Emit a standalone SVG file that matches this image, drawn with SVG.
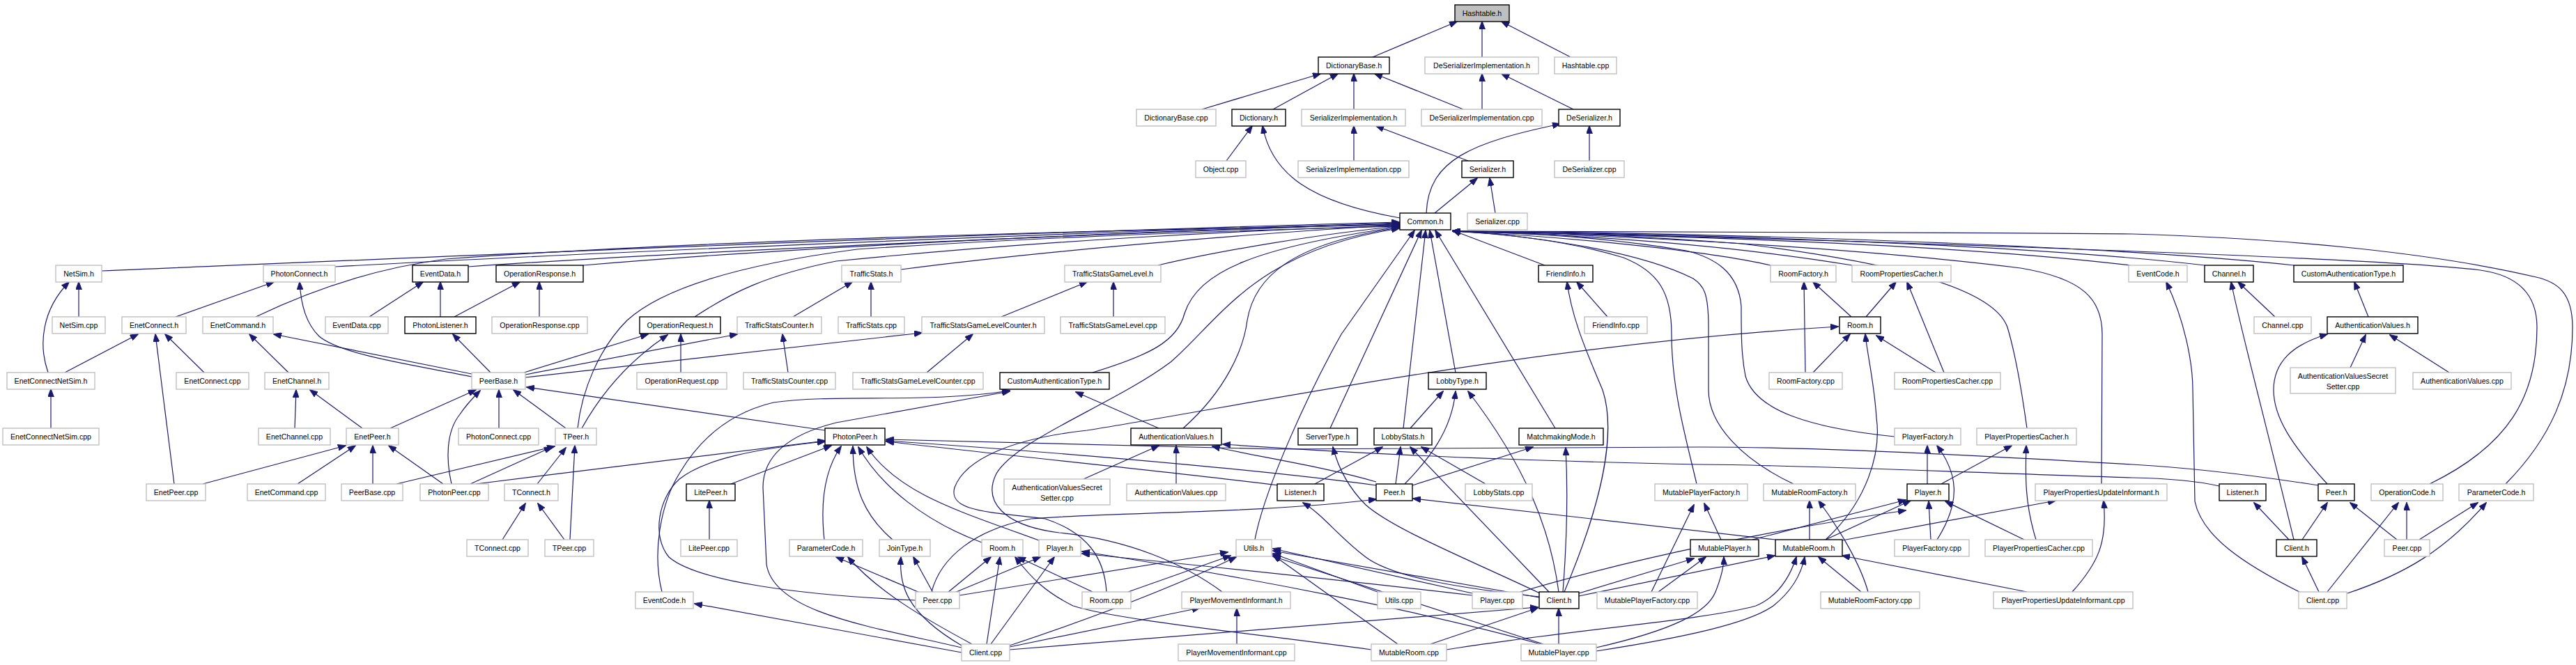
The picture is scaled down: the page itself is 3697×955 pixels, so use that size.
<svg xmlns="http://www.w3.org/2000/svg" width="3697" height="955" viewBox="0 0 3697 955">
<style>
.n rect{fill:#fff;stroke:#c0c0c0;stroke-width:1.4}
.b rect{stroke:#000;stroke-width:1.4}
text{font-family:"Liberation Sans",Arial,sans-serif;font-size:10.6px;fill:#000;text-anchor:middle}
.e path{fill:none;stroke:#191970;stroke-width:1.2;marker-end:url(#ah)}
</style>
<defs>
<marker id="ah" markerWidth="12" markerHeight="9" refX="11" refY="4.5" orient="auto" markerUnits="userSpaceOnUse"><path d="M0,0 L12,4.5 L0,9 z" fill="#191970" stroke="#191970" stroke-width="0.8"/></marker>
</defs>
<rect x="0" y="0" width="3697" height="955" fill="#fff"/>
<g id="connectors" class="e">
<path d="M1970,82 L2091,31"/>
<path d="M2127,82 L2127,31"/>
<path d="M2254,82 L2155,31"/>
<path d="M1725,157 L1895,106"/>
<path d="M1827,157 L1920,106"/>
<path d="M1943,157 L1943,106"/>
<path d="M2100,157 L1973,106"/>
<path d="M2127,157 L2127,106"/>
<path d="M2258,157 L2155,106"/>
<path d="M1943,231 L1943,181"/>
<path d="M2107,231 L1975,181"/>
<path d="M2281,231 L2281,181"/>
<path d="M1760,231 L1797,181"/>
<path d="M2009,313 C1880,290 1825,250 1812,181"/>
<path d="M2059,306 L2120,256"/>
<path d="M2146,306 L2138,256"/>
<path d="M2047,306 C2050,230 2110,205 2239,178"/>
<path d="M146,389 C600,370 1400,335 2008,319"/>
<path d="M481,383 C800,365 1500,335 2008,320"/>
<path d="M672,383 C1000,360 1600,335 2008,321"/>
<path d="M837,381 C1200,350 1700,330 2008,322"/>
<path d="M1293,387 C1500,360 1800,335 2008,323"/>
<path d="M1662,381 C1750,360 1900,335 2008,325"/>
<path d="M367,455 C450,415 540,385 640,372 C1000,345 1600,330 2008,323"/>
<path d="M997,455 C1050,420 1100,395 1200,375 C1500,345 1800,330 2008,324"/>
<path d="M1568,535 C1650,510 1690,490 1700,450 C1720,390 1800,355 2008,326"/>
<path d="M829,615 C835,560 860,500 900,460 C960,405 1100,375 1230,358 C1500,340 1800,330 2008,325"/>
<path d="M1698,615 C1760,560 1785,500 1790,460 C1800,400 1850,350 2008,327"/>
<path d="M1754,850 C1700,810 1620,775 1520,765 C1440,755 1410,720 1430,680 C1460,630 1600,580 1680,520 C1750,460 1800,360 2008,328"/>
<path d="M1588,850 C1585,800 1560,765 1500,745 C1420,735 1360,735 1370,700 C1385,660 1450,630 1560,618 C1800,580 2200,495 2638,469"/>
<path d="M1801,775 C1815,700 1880,560 1925,480 L2030,331"/>
<path d="M1909,615 L2040,331"/>
<path d="M2014,615 L2046,331"/>
<path d="M2089,535 L2052,331"/>
<path d="M2232,615 L2060,331"/>
<path d="M2217,381 L2085,331"/>
<path d="M2541,381 C2450,360 2250,340 2085,332"/>
<path d="M2658,381 C2500,355 2300,338 2085,332"/>
<path d="M3057,381 C2800,350 2400,338 2085,332"/>
<path d="M3164,381 C2900,350 2400,335 2085,332"/>
<path d="M3292,381 C3000,350 2400,333 2085,332"/>
<path d="M3487,695 C3600,640 3641,570 3641,470 C3641,420 3610,395 3560,388 C3400,368 2500,340 2085,332"/>
<path d="M3596,695 C3660,630 3692,560 3692,470 C3692,420 3670,405 3640,398 C3500,365 3300,343 3060,336 C2700,333 2300,332 2085,332"/>
<path d="M2574,695 C2500,660 2452,610 2452,560 L2452,470 C2452,420 2445,410 2430,400 C2350,360 2200,338 2085,332"/>
<path d="M2719,627 C2600,615 2519,590 2505,540 C2499,510 2499,480 2499,440 C2495,390 2460,370 2420,360 C2300,340 2200,335 2085,332"/>
<path d="M2909,615 C2900,550 2890,500 2881,470 C2860,410 2700,375 2500,350 C2300,335 2150,332 2085,332"/>
<path d="M3016,695 L3017,480 C3017,430 2990,400 2900,385 C2700,360 2400,340 2085,332"/>
<path d="M2435,695 C2420,630 2399,560 2399,480 C2399,420 2380,390 2330,370 C2250,345 2150,335 2085,332"/>
<path d="M252,455 L393,405"/>
<path d="M69,535 C55,495 60,445 99,405"/>
<path d="M113,455 L113,405"/>
<path d="M677,541 C600,525 490,510 458,483 C440,465 432,440 430,405"/>
<path d="M677,537 L393,480"/>
<path d="M530,455 L607,405"/>
<path d="M632,455 L632,405"/>
<path d="M652,455 L746,405"/>
<path d="M774,455 L774,405"/>
<path d="M93,535 L198,480"/>
<path d="M250,695 L223,480"/>
<path d="M293,535 L237,480"/>
<path d="M73,615 L73,559"/>
<path d="M414,535 L358,480"/>
<path d="M423,615 L425,560"/>
<path d="M520,615 L445,560"/>
<path d="M560,615 L683,560"/>
<path d="M291,695 L496,640"/>
<path d="M427,695 L510,640"/>
<path d="M535,695 L535,640"/>
<path d="M636,695 L558,640"/>
<path d="M569,695 L796,641"/>
<path d="M704,535 L650,480"/>
<path d="M752,535 L930,480"/>
<path d="M754,538 L1058,480"/>
<path d="M754,542 L1323,478"/>
<path d="M977,535 L977,480"/>
<path d="M1131,535 L1123,480"/>
<path d="M812,615 L737,560"/>
<path d="M716,615 L716,560"/>
<path d="M648,695 C640,660 640,620 660,595 C670,580 680,570 689,561"/>
<path d="M1184,618 L756,556"/>
<path d="M835,615 C860,570 900,520 958,481"/>
<path d="M675,695 L792,642"/>
<path d="M683,695 L1184,633"/>
<path d="M1314,862 C1150,855 1000,835 960,800 C935,770 945,715 975,688 C1010,660 1080,645 1184,634"/>
<path d="M1049,695 L1193,640"/>
<path d="M1183,775 C1178,730 1180,680 1207,641"/>
<path d="M1018,775 L1018,719"/>
<path d="M721,775 L754,723"/>
<path d="M810,775 L772,723"/>
<path d="M818,775 L825,640"/>
<path d="M771,695 L812,643"/>
<path d="M1320,851 L1200,800"/>
<path d="M1395,925 C1330,890 1260,850 1217,800"/>
<path d="M1380,937 L997,867"/>
<path d="M950,850 C935,790 950,720 975,680 C1010,620 1060,590 1110,578 C1200,565 1330,580 1449,561"/>
<path d="M1380,930 C1250,900 1110,880 1100,810 L1095,700 C1095,650 1140,622 1200,607 L1449,562"/>
<path d="M1330,535 L1396,480"/>
<path d="M1663,615 L1544,563"/>
<path d="M1555,688 L1663,640"/>
<path d="M1688,695 L1688,640"/>
<path d="M1975,692 C1900,670 1800,655 1740,641"/>
<path d="M1975,697 C1850,680 1600,655 1272,633"/>
<path d="M1836,697 C1700,680 1500,660 1272,634"/>
<path d="M3327,697 C3250,685 3150,672 3060,667 C2800,652 2600,642 2440,642 L1830,645 C1600,640 1400,635 1272,631"/>
<path d="M3185,698 C3150,690 3110,687 3060,686 C2800,678 2600,668 2440,667 C2100,660 1900,648 1755,638"/>
<path d="M1281,775 C1240,740 1224,700 1224,641"/>
<path d="M1409,779 C1330,750 1265,700 1232,642"/>
<path d="M1491,776 C1380,735 1290,710 1244,642"/>
<path d="M1339,851 L1311,800"/>
<path d="M1380,927 C1300,880 1290,840 1293,800"/>
<path d="M1360,851 L1422,800"/>
<path d="M1370,851 L1493,800"/>
<path d="M1416,925 L1435,800"/>
<path d="M1422,925 L1513,800"/>
<path d="M1568,850 L1461,800"/>
<path d="M1968,933 C1800,910 1600,890 1540,870 C1500,850 1480,830 1457,800"/>
<path d="M2113,855 C1900,830 1700,810 1553,795"/>
<path d="M2211,925 C2050,880 1800,830 1553,792"/>
<path d="M1377,855 L1762,793"/>
<path d="M1619,850 L1766,798"/>
<path d="M1449,927 C1560,890 1680,845 1774,800"/>
<path d="M1449,929 L1722,873"/>
<path d="M1775,925 L1775,874"/>
<path d="M1449,933 L2207,872"/>
<path d="M2113,852 L1827,788"/>
<path d="M2209,858 L1827,791"/>
<path d="M1977,850 L1827,795"/>
<path d="M2006,925 L1827,797"/>
<path d="M2215,925 L1827,799"/>
<path d="M1337,850 C1350,800 1400,760 1480,745 C1600,735 1800,738 1975,717"/>
<path d="M2548,775 L2028,716"/>
<path d="M2209,857 C2100,845 2000,830 1960,800 C1920,770 1900,740 1870,722"/>
<path d="M2210,852 C2100,800 2000,760 1960,725 C1935,700 1920,670 1913,642"/>
<path d="M1887,695 L1984,642"/>
<path d="M2003,695 L2010,642"/>
<path d="M2223,850 L2024,642"/>
<path d="M2132,695 L2040,642"/>
<path d="M2024,615 L2071,562"/>
<path d="M2016,695 C2050,660 2083,620 2089,562"/>
<path d="M2237,850 C2225,760 2190,670 2107,562"/>
<path d="M2027,697 L2200,642"/>
<path d="M2243,850 C2250,760 2250,700 2247,643"/>
<path d="M2245,850 C2300,720 2320,620 2300,560 C2270,490 2255,450 2249,405"/>
<path d="M2237,925 L2237,874"/>
<path d="M2053,925 L2207,873"/>
<path d="M2370,850 L2431,725"/>
<path d="M2380,850 L2448,800"/>
<path d="M2266,852 L2431,802"/>
<path d="M2266,856 L2547,798"/>
<path d="M2182,850 C2350,800 2550,760 2735,733"/>
<path d="M2291,930 C2400,905 2450,880 2462,850 C2470,830 2474,815 2474,800"/>
<path d="M2291,935 C2420,915 2510,895 2545,870 C2570,850 2585,825 2590,800"/>
<path d="M2076,933 C2250,905 2450,890 2520,870 C2555,855 2570,825 2578,800"/>
<path d="M2470,775 L2446,723"/>
<path d="M2515,775 L2735,718"/>
<path d="M2597,775 L2597,719"/>
<path d="M2620,775 L2742,719"/>
<path d="M2620,775 C2680,720 2700,650 2693,600 C2690,550 2680,510 2677,480"/>
<path d="M2644,776 L2950,719"/>
<path d="M2681,850 C2670,810 2640,760 2610,719"/>
<path d="M2671,850 L2610,800"/>
<path d="M2974,850 C3010,810 3025,780 3019,719"/>
<path d="M2909,850 L2644,798"/>
<path d="M2766,695 L2766,640"/>
<path d="M2780,775 C2815,720 2810,680 2780,640"/>
<path d="M2771,775 L2768,720"/>
<path d="M2786,695 L2887,640"/>
<path d="M2922,775 C2905,720 2907,680 2908,640"/>
<path d="M2905,775 L2792,720"/>
<path d="M2657,455 L2602,405"/>
<path d="M2591,535 L2589,405"/>
<path d="M2678,455 L2721,405"/>
<path d="M2790,535 L2737,405"/>
<path d="M2602,535 L2655,480"/>
<path d="M2778,535 L2693,482"/>
<path d="M2307,455 L2263,405"/>
<path d="M3265,455 L3212,405"/>
<path d="M3399,455 L3379,405"/>
<path d="M3300,850 C3220,810 3160,770 3150,720 L3147,560 C3147,520 3135,460 3109,405"/>
<path d="M3292,775 C3250,600 3215,470 3202,405"/>
<path d="M3340,695 C3290,640 3263,600 3263,560 C3263,520 3290,495 3340,480"/>
<path d="M3373,528 L3395,481"/>
<path d="M3515,535 L3430,481"/>
<path d="M3285,775 L3235,722"/>
<path d="M3304,775 L3340,722"/>
<path d="M3440,775 L3373,722"/>
<path d="M3454,775 L3454,722"/>
<path d="M3472,775 L3556,722"/>
<path d="M3328,850 L3304,800"/>
<path d="M3340,850 L3442,722"/>
<path d="M3369,852 C3450,825 3510,790 3568,722"/>
<path d="M1138,455 L1223,405"/>
<path d="M1250,455 L1250,405"/>
<path d="M1437,455 L1560,405"/>
<path d="M1598,455 L1598,405"/>
</g>
<g id="n_hashtable_h" class="n b"><rect x="2088" y="7" width="78" height="24" style="fill:#bfbfbf"/><text x="2127" y="23">Hashtable.h</text></g>
<g id="n_dictionarybase_h" class="n b"><rect x="1892" y="82" width="102" height="24"/><text x="1943" y="98">DictionaryBase.h</text></g>
<g id="n_deserimpl_h" class="n"><rect x="2045" y="82" width="163" height="24"/><text x="2126.5" y="98">DeSerializerImplementation.h</text></g>
<g id="n_hashtable_cpp" class="n"><rect x="2231" y="82" width="89" height="24"/><text x="2275.5" y="98">Hashtable.cpp</text></g>
<g id="n_dictionarybase_cpp" class="n"><rect x="1631" y="157" width="114" height="24"/><text x="1688" y="173">DictionaryBase.cpp</text></g>
<g id="n_dictionary_h" class="n b"><rect x="1768" y="157" width="77" height="24"/><text x="1806.5" y="173">Dictionary.h</text></g>
<g id="n_serimpl_h" class="n"><rect x="1868" y="157" width="149" height="24"/><text x="1942.5" y="173">SerializerImplementation.h</text></g>
<g id="n_deserimpl_cpp" class="n"><rect x="2040" y="157" width="173" height="24"/><text x="2126.5" y="173">DeSerializerImplementation.cpp</text></g>
<g id="n_deserializer_h" class="n b"><rect x="2237" y="157" width="88" height="24"/><text x="2281" y="173">DeSerializer.h</text></g>
<g id="n_object_cpp" class="n"><rect x="1716" y="231" width="72" height="24"/><text x="1752" y="247">Object.cpp</text></g>
<g id="n_serimpl_cpp" class="n"><rect x="1863" y="231" width="159" height="24"/><text x="1942.5" y="247">SerializerImplementation.cpp</text></g>
<g id="n_serializer_h" class="n b"><rect x="2098" y="231" width="74" height="24"/><text x="2135" y="247">Serializer.h</text></g>
<g id="n_deserializer_cpp" class="n"><rect x="2231" y="231" width="100" height="24"/><text x="2281" y="247">DeSerializer.cpp</text></g>
<g id="n_common_h" class="n b"><rect x="2009" y="306" width="73" height="24"/><text x="2045.5" y="322">Common.h</text></g>
<g id="n_serializer_cpp" class="n"><rect x="2106" y="306" width="86" height="24"/><text x="2149" y="322">Serializer.cpp</text></g>
<g id="n_netsim_h" class="n"><rect x="80" y="381" width="66" height="24"/><text x="113" y="397">NetSim.h</text></g>
<g id="n_photonconnect_h" class="n"><rect x="378" y="381" width="103" height="24"/><text x="429.5" y="397">PhotonConnect.h</text></g>
<g id="n_eventdata_h" class="n b"><rect x="592" y="381" width="80" height="24"/><text x="632" y="397">EventData.h</text></g>
<g id="n_operationresponse_h" class="n b"><rect x="712" y="381" width="125" height="24"/><text x="774.5" y="397">OperationResponse.h</text></g>
<g id="n_trafficstats_h" class="n"><rect x="1208" y="381" width="85" height="24"/><text x="1250.5" y="397">TrafficStats.h</text></g>
<g id="n_tsgl_h" class="n"><rect x="1528" y="381" width="138" height="24"/><text x="1597" y="397">TrafficStatsGameLevel.h</text></g>
<g id="n_friendinfo_h" class="n b"><rect x="2208" y="381" width="78" height="24"/><text x="2247" y="397">FriendInfo.h</text></g>
<g id="n_roomfactory_h" class="n"><rect x="2541" y="381" width="94" height="24"/><text x="2588" y="397">RoomFactory.h</text></g>
<g id="n_rpc_h" class="n"><rect x="2658" y="381" width="142" height="24"/><text x="2729" y="397">RoomPropertiesCacher.h</text></g>
<g id="n_eventcode_h_top" class="n"><rect x="3055" y="381" width="84" height="24"/><text x="3097" y="397">EventCode.h</text></g>
<g id="n_channel_h" class="n b"><rect x="3164" y="381" width="70" height="24"/><text x="3199" y="397">Channel.h</text></g>
<g id="n_customauthtype_h_top" class="n b"><rect x="3292" y="381" width="157" height="24"/><text x="3370.5" y="397">CustomAuthenticationType.h</text></g>
<g id="n_netsim_cpp" class="n"><rect x="75" y="455" width="76" height="24"/><text x="113" y="471">NetSim.cpp</text></g>
<g id="n_enetconnect_h" class="n"><rect x="175" y="455" width="92" height="24"/><text x="221" y="471">EnetConnect.h</text></g>
<g id="n_enetcommand_h" class="n"><rect x="291" y="455" width="101" height="24"/><text x="341.5" y="471">EnetCommand.h</text></g>
<g id="n_eventdata_cpp" class="n"><rect x="467" y="455" width="90" height="24"/><text x="512" y="471">EventData.cpp</text></g>
<g id="n_photonlistener_h" class="n b"><rect x="581" y="455" width="102" height="24"/><text x="632" y="471">PhotonListener.h</text></g>
<g id="n_operationresponse_cpp" class="n"><rect x="706" y="455" width="137" height="24"/><text x="774.5" y="471">OperationResponse.cpp</text></g>
<g id="n_operationrequest_h" class="n b"><rect x="918" y="455" width="116" height="24"/><text x="976" y="471">OperationRequest.h</text></g>
<g id="n_tscounter_h" class="n"><rect x="1058" y="455" width="121" height="24"/><text x="1118.5" y="471">TrafficStatsCounter.h</text></g>
<g id="n_trafficstats_cpp" class="n"><rect x="1203" y="455" width="95" height="24"/><text x="1250.5" y="471">TrafficStats.cpp</text></g>
<g id="n_tsglcounter_h" class="n"><rect x="1323" y="455" width="176" height="24"/><text x="1411" y="471">TrafficStatsGameLevelCounter.h</text></g>
<g id="n_tsgl_cpp" class="n"><rect x="1522" y="455" width="150" height="24"/><text x="1597" y="471">TrafficStatsGameLevel.cpp</text></g>
<g id="n_friendinfo_cpp" class="n"><rect x="2274" y="455" width="90" height="24"/><text x="2319" y="471">FriendInfo.cpp</text></g>
<g id="n_room_h_top" class="n b"><rect x="2640" y="455" width="59" height="24"/><text x="2669.5" y="471">Room.h</text></g>
<g id="n_channel_cpp" class="n"><rect x="3235" y="455" width="82" height="24"/><text x="3276" y="471">Channel.cpp</text></g>
<g id="n_authvalues_h_top" class="n b"><rect x="3340" y="455" width="130" height="24"/><text x="3405" y="471">AuthenticationValues.h</text></g>
<g id="n_enetconnectnetsim_h" class="n"><rect x="10" y="535" width="126" height="24"/><text x="73" y="551">EnetConnectNetSim.h</text></g>
<g id="n_enetconnect_cpp" class="n"><rect x="253" y="535" width="104" height="24"/><text x="305" y="551">EnetConnect.cpp</text></g>
<g id="n_enetchannel_h" class="n"><rect x="380" y="535" width="92" height="24"/><text x="426" y="551">EnetChannel.h</text></g>
<g id="n_peerbase_h" class="n"><rect x="677" y="535" width="77" height="24"/><text x="715.5" y="551">PeerBase.h</text></g>
<g id="n_operationrequest_cpp" class="n"><rect x="914" y="535" width="129" height="24"/><text x="978.5" y="551">OperationRequest.cpp</text></g>
<g id="n_tscounter_cpp" class="n"><rect x="1067" y="535" width="132" height="24"/><text x="1133" y="551">TrafficStatsCounter.cpp</text></g>
<g id="n_tsglcounter_cpp" class="n"><rect x="1224" y="535" width="187" height="24"/><text x="1317.5" y="551">TrafficStatsGameLevelCounter.cpp</text></g>
<g id="n_customauthtype_h" class="n b"><rect x="1435" y="535" width="157" height="24"/><text x="1513.5" y="551">CustomAuthenticationType.h</text></g>
<g id="n_lobbytype_h" class="n b"><rect x="2050" y="535" width="83" height="24"/><text x="2091.5" y="551">LobbyType.h</text></g>
<g id="n_roomfactory_cpp" class="n"><rect x="2539" y="535" width="105" height="24"/><text x="2591.5" y="551">RoomFactory.cpp</text></g>
<g id="n_rpc_cpp" class="n"><rect x="2719" y="535" width="152" height="24"/><text x="2795" y="551">RoomPropertiesCacher.cpp</text></g>
<g id="n_avss_cpp_top" class="n"><rect x="3287" y="528" width="151" height="37"/><text x="3362.5" y="543.5">AuthenticationValuesSecret</text><text x="3362.5" y="558.5">Setter.cpp</text></g>
<g id="n_authvalues_cpp_top" class="n"><rect x="3463" y="535" width="141" height="24"/><text x="3533.5" y="551">AuthenticationValues.cpp</text></g>
<g id="n_enetconnectnetsim_cpp" class="n"><rect x="4" y="615" width="138" height="24"/><text x="73" y="631">EnetConnectNetSim.cpp</text></g>
<g id="n_enetchannel_cpp" class="n"><rect x="371" y="615" width="103" height="24"/><text x="422.5" y="631">EnetChannel.cpp</text></g>
<g id="n_enetpeer_h" class="n"><rect x="497" y="615" width="75" height="24"/><text x="534.5" y="631">EnetPeer.h</text></g>
<g id="n_photonconnect_cpp" class="n"><rect x="658" y="615" width="115" height="24"/><text x="715.5" y="631">PhotonConnect.cpp</text></g>
<g id="n_tpeer_h" class="n"><rect x="797" y="615" width="59" height="24"/><text x="826.5" y="631">TPeer.h</text></g>
<g id="n_photonpeer_h" class="n b"><rect x="1184" y="615" width="86" height="24"/><text x="1227" y="631">PhotonPeer.h</text></g>
<g id="n_authvalues_h" class="n b"><rect x="1623" y="615" width="130" height="24"/><text x="1688" y="631">AuthenticationValues.h</text></g>
<g id="n_servertype_h" class="n b"><rect x="1863" y="615" width="85" height="24"/><text x="1905.5" y="631">ServerType.h</text></g>
<g id="n_lobbystats_h" class="n b"><rect x="1972" y="615" width="83" height="24"/><text x="2013.5" y="631">LobbyStats.h</text></g>
<g id="n_matchmakingmode_h" class="n b"><rect x="2180" y="615" width="121" height="24"/><text x="2240.5" y="631">MatchmakingMode.h</text></g>
<g id="n_playerfactory_h" class="n"><rect x="2719" y="615" width="95" height="24"/><text x="2766.5" y="631">PlayerFactory.h</text></g>
<g id="n_ppc_h" class="n"><rect x="2837" y="615" width="143" height="24"/><text x="2908.5" y="631">PlayerPropertiesCacher.h</text></g>
<g id="n_enetpeer_cpp" class="n"><rect x="210" y="695" width="85" height="24"/><text x="252.5" y="711">EnetPeer.cpp</text></g>
<g id="n_enetcommand_cpp" class="n"><rect x="355" y="695" width="112" height="24"/><text x="411" y="711">EnetCommand.cpp</text></g>
<g id="n_peerbase_cpp" class="n"><rect x="490" y="695" width="88" height="24"/><text x="534" y="711">PeerBase.cpp</text></g>
<g id="n_photonpeer_cpp" class="n"><rect x="603" y="695" width="98" height="24"/><text x="652" y="711">PhotonPeer.cpp</text></g>
<g id="n_tconnect_h" class="n"><rect x="724" y="695" width="77" height="24"/><text x="762.5" y="711">TConnect.h</text></g>
<g id="n_litepeer_h" class="n b"><rect x="985" y="695" width="70" height="24"/><text x="1020" y="711">LitePeer.h</text></g>
<g id="n_avss_cpp" class="n"><rect x="1441" y="688" width="152" height="37"/><text x="1517" y="703.5">AuthenticationValuesSecret</text><text x="1517" y="718.5">Setter.cpp</text></g>
<g id="n_authvalues_cpp" class="n"><rect x="1617" y="695" width="142" height="24"/><text x="1688" y="711">AuthenticationValues.cpp</text></g>
<g id="n_listener_h" class="n b"><rect x="1833" y="695" width="67" height="24"/><text x="1866.5" y="711">Listener.h</text></g>
<g id="n_peer_h" class="n b"><rect x="1975" y="695" width="52" height="24"/><text x="2001" y="711">Peer.h</text></g>
<g id="n_lobbystats_cpp" class="n"><rect x="2103" y="695" width="96" height="24"/><text x="2151" y="711">LobbyStats.cpp</text></g>
<g id="n_mpf_h" class="n"><rect x="2375" y="695" width="133" height="24"/><text x="2441.5" y="711">MutablePlayerFactory.h</text></g>
<g id="n_mrf_h" class="n"><rect x="2531" y="695" width="132" height="24"/><text x="2597" y="711">MutableRoomFactory.h</text></g>
<g id="n_player_h_r" class="n b"><rect x="2737" y="695" width="60" height="24"/><text x="2767" y="711">Player.h</text></g>
<g id="n_ppui_h" class="n"><rect x="2921" y="695" width="189" height="24"/><text x="3015.5" y="711">PlayerPropertiesUpdateInformant.h</text></g>
<g id="n_listener_h_r" class="n b"><rect x="3185" y="695" width="67" height="24"/><text x="3218.5" y="711">Listener.h</text></g>
<g id="n_peer_h_r" class="n b"><rect x="3327" y="695" width="52" height="24"/><text x="3353" y="711">Peer.h</text></g>
<g id="n_operationcode_h" class="n"><rect x="3403" y="695" width="103" height="24"/><text x="3454.5" y="711">OperationCode.h</text></g>
<g id="n_parametercode_h_r" class="n"><rect x="3529" y="695" width="107" height="24"/><text x="3582.5" y="711">ParameterCode.h</text></g>
<g id="n_tconnect_cpp" class="n"><rect x="670" y="775" width="88" height="24"/><text x="714" y="791">TConnect.cpp</text></g>
<g id="n_tpeer_cpp" class="n"><rect x="782" y="775" width="70" height="24"/><text x="817" y="791">TPeer.cpp</text></g>
<g id="n_litepeer_cpp" class="n"><rect x="977" y="775" width="81" height="24"/><text x="1017.5" y="791">LitePeer.cpp</text></g>
<g id="n_parametercode_h" class="n"><rect x="1133" y="775" width="105" height="24"/><text x="1185.5" y="791">ParameterCode.h</text></g>
<g id="n_jointype_h" class="n"><rect x="1262" y="775" width="73" height="24"/><text x="1298.5" y="791">JoinType.h</text></g>
<g id="n_room_h" class="n"><rect x="1409" y="775" width="59" height="24"/><text x="1438.5" y="791">Room.h</text></g>
<g id="n_player_h" class="n"><rect x="1491" y="775" width="60" height="24"/><text x="1521" y="791">Player.h</text></g>
<g id="n_utils_h" class="n"><rect x="1774" y="775" width="51" height="24"/><text x="1799.5" y="791">Utils.h</text></g>
<g id="n_mutableplayer_h" class="n b"><rect x="2426" y="775" width="98" height="24"/><text x="2475" y="791">MutablePlayer.h</text></g>
<g id="n_mutableroom_h" class="n b"><rect x="2548" y="775" width="96" height="24"/><text x="2596" y="791">MutableRoom.h</text></g>
<g id="n_playerfactory_cpp" class="n"><rect x="2719" y="775" width="107" height="24"/><text x="2772.5" y="791">PlayerFactory.cpp</text></g>
<g id="n_ppc_cpp" class="n"><rect x="2849" y="775" width="154" height="24"/><text x="2926" y="791">PlayerPropertiesCacher.cpp</text></g>
<g id="n_client_h_r" class="n b"><rect x="3267" y="775" width="58" height="24"/><text x="3296" y="791">Client.h</text></g>
<g id="n_peer_cpp_r" class="n"><rect x="3422" y="775" width="65" height="24"/><text x="3454.5" y="791">Peer.cpp</text></g>
<g id="n_eventcode_h" class="n"><rect x="912" y="850" width="83" height="24"/><text x="953.5" y="866">EventCode.h</text></g>
<g id="n_peer_cpp" class="n"><rect x="1314" y="850" width="63" height="24"/><text x="1345.5" y="866">Peer.cpp</text></g>
<g id="n_room_cpp" class="n"><rect x="1553" y="850" width="70" height="24"/><text x="1588" y="866">Room.cpp</text></g>
<g id="n_pmi_h" class="n"><rect x="1696" y="850" width="156" height="24"/><text x="1774" y="866">PlayerMovementInformant.h</text></g>
<g id="n_utils_cpp" class="n"><rect x="1977" y="850" width="62" height="24"/><text x="2008" y="866">Utils.cpp</text></g>
<g id="n_player_cpp" class="n"><rect x="2113" y="850" width="72" height="24"/><text x="2149" y="866">Player.cpp</text></g>
<g id="n_client_h" class="n b"><rect x="2209" y="850" width="57" height="24"/><text x="2237.5" y="866">Client.h</text></g>
<g id="n_mpf_cpp" class="n"><rect x="2292" y="850" width="144" height="24"/><text x="2364" y="866">MutablePlayerFactory.cpp</text></g>
<g id="n_mrf_cpp" class="n"><rect x="2613" y="850" width="142" height="24"/><text x="2684" y="866">MutableRoomFactory.cpp</text></g>
<g id="n_ppui_cpp" class="n"><rect x="2861" y="850" width="200" height="24"/><text x="2961" y="866">PlayerPropertiesUpdateInformant.cpp</text></g>
<g id="n_client_cpp_r" class="n"><rect x="3299" y="850" width="69" height="24"/><text x="3333.5" y="866">Client.cpp</text></g>
<g id="n_client_cpp" class="n"><rect x="1380" y="925" width="69" height="24"/><text x="1414.5" y="941">Client.cpp</text></g>
<g id="n_pmi_cpp" class="n"><rect x="1691" y="925" width="167" height="24"/><text x="1774.5" y="941">PlayerMovementInformant.cpp</text></g>
<g id="n_mutableroom_cpp" class="n"><rect x="1968" y="925" width="108" height="24"/><text x="2022" y="941">MutableRoom.cpp</text></g>
<g id="n_mutableplayer_cpp" class="n"><rect x="2183" y="925" width="108" height="24"/><text x="2237" y="941">MutablePlayer.cpp</text></g>
</svg>
